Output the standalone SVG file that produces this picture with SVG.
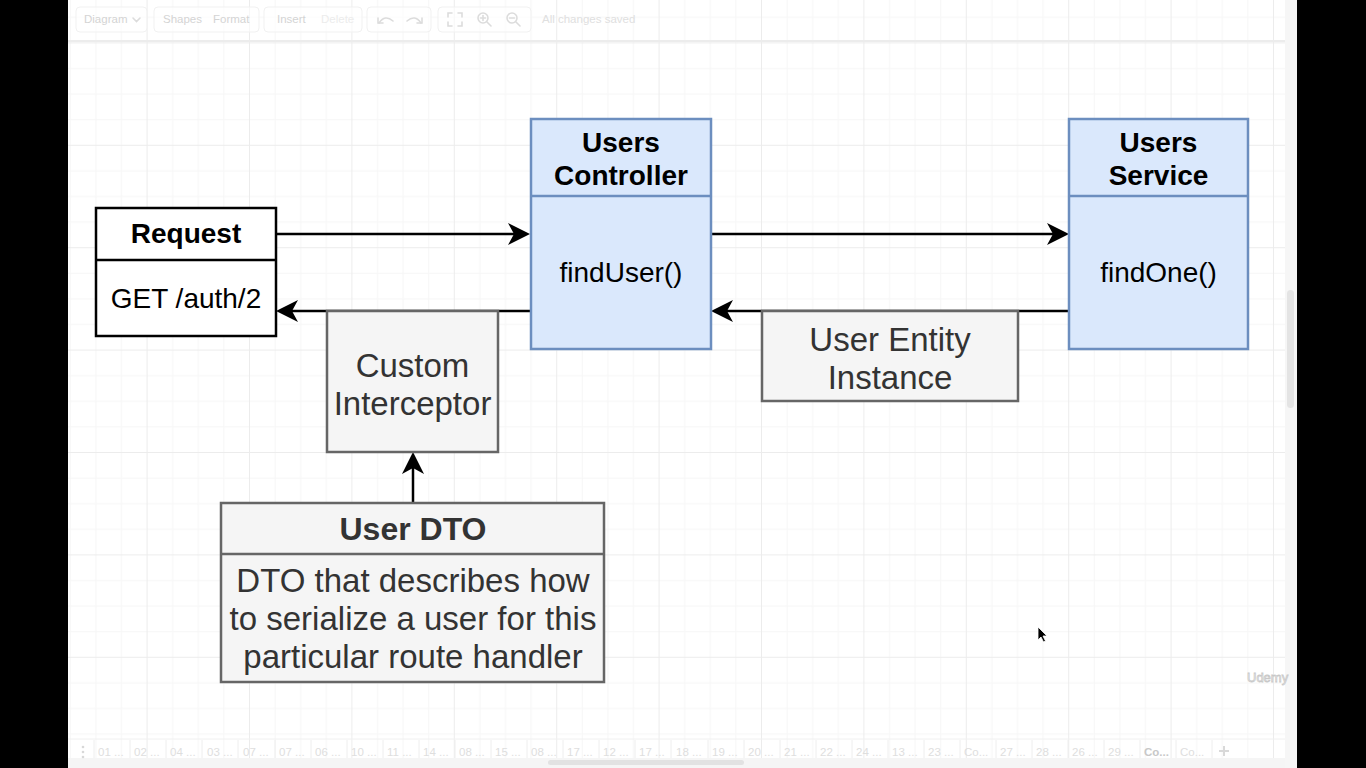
<svg xmlns="http://www.w3.org/2000/svg" width="1366" height="768" viewBox="0 0 1366 768">
<style>
  .t { font-family: "Liberation Sans", Arial, Helvetica, sans-serif; text-anchor: middle; }
  .b { font-weight: bold; }
  .s28 { font-size: 28px; }
  .s32 { font-size: 32px; }
  .s33 { font-size: 33px; }
  .ink { fill: #000000; }
  .dim { fill: #333333; }
  .blue { fill: #dae8fc; stroke: #6c8ebf; stroke-width: 2.5; }
  .gray { fill: #f5f5f5; stroke: #666666; stroke-width: 2.5; }
  .white { fill: #ffffff; stroke: #000000; stroke-width: 2.5; }
  .edge { fill: none; stroke: #000000; stroke-width: 2.5; marker-end: url(#arr); }
  .ui { font-family: "Liberation Sans", Arial, Helvetica, sans-serif; font-size: 11.5px; fill: #d4d4d4; }
  .tab { font-family: "Liberation Sans", Arial, Helvetica, sans-serif; font-size: 11.5px; fill: #dedede; }
  .tbox { fill: #ffffff; fill-opacity: 0.6; stroke: #f1f1f1; stroke-width: 1; }
  .icon { fill: none; stroke: #dcdcdc; stroke-width: 1.6; stroke-linecap: round; }
</style>
<defs>
  <pattern id="grid" patternUnits="userSpaceOnUse" x="44.2" y="42.4" width="102.4" height="102.4">
    <rect x="25.6" y="0" width="1" height="102.4" fill="#f6f6f6"/>
    <rect x="51.2" y="0" width="1" height="102.4" fill="#f6f6f6"/>
    <rect x="76.8" y="0" width="1" height="102.4" fill="#f6f6f6"/>
    <rect x="0" y="25.6" width="102.4" height="1" fill="#f6f6f6"/>
    <rect x="0" y="51.2" width="102.4" height="1" fill="#f6f6f6"/>
    <rect x="0" y="76.8" width="102.4" height="1" fill="#f6f6f6"/>
    <rect x="0" y="0" width="1" height="102.4" fill="#ececec"/>
    <rect x="0" y="0" width="102.4" height="1" fill="#ececec"/>
  </pattern>
  <marker id="arr" markerUnits="userSpaceOnUse" viewBox="0 0 22 22" refX="6" refY="11" markerWidth="22" markerHeight="22" orient="auto">
    <path d="M0,0 L22,11 L0,22 L6,11 Z" fill="#000000"/>
  </marker>
</defs>

<!-- frame -->
<rect x="0" y="0" width="1366" height="768" fill="#000000"/>
<rect x="68" y="0" width="1229" height="768" fill="#ffffff"/>
<rect x="68" y="0" width="1217" height="758" fill="url(#grid)"/>
<rect x="1285" y="0" width="12" height="768" fill="#f6f6f6"/>
<rect x="1287" y="290" width="7" height="118" rx="3.5" fill="#e4e4e4"/>

<!-- toolbar -->
<g id="toolbar">
  <line x1="68" y1="41" x2="1285" y2="41" stroke="#ececec" stroke-width="2"/>
  <rect class="tbox" x="76" y="7" width="71" height="25" rx="4"/>
  <rect class="tbox" x="154" y="7" width="105" height="25" rx="4"/>
  <rect class="tbox" x="264" y="7" width="98" height="25" rx="4"/>
  <rect class="tbox" x="367" y="7" width="64" height="25" rx="4"/>
  <rect class="tbox" x="438" y="7" width="93" height="25" rx="4"/>
  <text class="ui" x="84" y="23">Diagram</text>
  <polyline class="icon" points="133,18 136.5,21.5 140,18" stroke-width="1.2"/>
  <text class="ui" x="163" y="23">Shapes</text>
  <text class="ui" x="213" y="23">Format</text>
  <text class="ui" x="277" y="23">Insert</text>
  <text class="ui" x="321" y="23" style="fill:#ececec">Delete</text>
  <path class="icon" d="M379,23 Q385,14 393,21"/>
  <polyline class="icon" points="378,18 378,23 383,23"/>
  <path class="icon" d="M407,21 Q415,14 421,23" stroke="#ececec"/>
  <polyline class="icon" points="417,23 422,23 422,18" stroke="#ececec"/>
  <polyline class="icon" points="448,17 448,13 452,13"/>
  <polyline class="icon" points="458,13 462,13 462,17"/>
  <polyline class="icon" points="448,22 448,26 452,26"/>
  <polyline class="icon" points="458,26 462,26 462,22"/>
  <circle class="icon" cx="483" cy="18" r="5"/>
  <line class="icon" x1="487" y1="22" x2="491" y2="26"/>
  <line class="icon" x1="480.5" y1="18" x2="485.5" y2="18"/>
  <line class="icon" x1="483" y1="15.5" x2="483" y2="20.5"/>
  <circle class="icon" cx="512" cy="18" r="5"/>
  <line class="icon" x1="516" y1="22" x2="520" y2="26"/>
  <line class="icon" x1="509.5" y1="18" x2="514.5" y2="18"/>
  <text class="ui" x="542" y="23" style="fill:#e0e0e0">All changes saved</text>
</g>

<!-- bottom tab bar -->
<g id="tabbar">
  <line x1="68" y1="739" x2="1285" y2="739" stroke="#f0f0f0" stroke-width="1"/>
  <rect x="68" y="758" width="1217" height="10" fill="#f5f5f5"/>
  <rect x="548" y="760" width="196" height="5" rx="2.5" fill="#e2e2e2"/>
  <circle cx="83" cy="747" r="1.3" fill="#d8d8d8"/>
  <circle cx="83" cy="752" r="1.3" fill="#d8d8d8"/>
  <circle cx="83" cy="757" r="1.3" fill="#d8d8d8"/>
  <g stroke="#eeeeee" stroke-width="1">
    <line x1="94" y1="740" x2="94" y2="758"/>
    <line x1="130" y1="740" x2="130" y2="758"/>
    <line x1="166" y1="740" x2="166" y2="758"/>
    <line x1="202" y1="740" x2="202" y2="758"/>
    <line x1="238" y1="740" x2="238" y2="758"/>
    <line x1="275" y1="740" x2="275" y2="758"/>
    <line x1="311" y1="740" x2="311" y2="758"/>
    <line x1="347" y1="740" x2="347" y2="758"/>
    <line x1="383" y1="740" x2="383" y2="758"/>
    <line x1="419" y1="740" x2="419" y2="758"/>
    <line x1="455" y1="740" x2="455" y2="758"/>
    <line x1="491" y1="740" x2="491" y2="758"/>
    <line x1="527" y1="740" x2="527" y2="758"/>
    <line x1="563" y1="740" x2="563" y2="758"/>
    <line x1="599" y1="740" x2="599" y2="758"/>
    <line x1="635" y1="740" x2="635" y2="758"/>
    <line x1="671" y1="740" x2="671" y2="758"/>
    <line x1="708" y1="740" x2="708" y2="758"/>
    <line x1="744" y1="740" x2="744" y2="758"/>
    <line x1="780" y1="740" x2="780" y2="758"/>
    <line x1="816" y1="740" x2="816" y2="758"/>
    <line x1="852" y1="740" x2="852" y2="758"/>
    <line x1="888" y1="740" x2="888" y2="758"/>
    <line x1="924" y1="740" x2="924" y2="758"/>
    <line x1="960" y1="740" x2="960" y2="758"/>
    <line x1="996" y1="740" x2="996" y2="758"/>
    <line x1="1032" y1="740" x2="1032" y2="758"/>
    <line x1="1068" y1="740" x2="1068" y2="758"/>
    <line x1="1104" y1="740" x2="1104" y2="758"/>
    <line x1="1140" y1="740" x2="1140" y2="758"/>
    <line x1="1176" y1="740" x2="1176" y2="758"/>
    <line x1="1212" y1="740" x2="1212" y2="758"/>
  </g>
  <text class="tab" x="98" y="756">01 ...</text>
  <text class="tab" x="134" y="756">02 ...</text>
  <text class="tab" x="170" y="756">04 ...</text>
  <text class="tab" x="207" y="756">03 ...</text>
  <text class="tab" x="243" y="756">07 ...</text>
  <text class="tab" x="279" y="756">07 ...</text>
  <text class="tab" x="315" y="756">06 ...</text>
  <text class="tab" x="351" y="756">10 ...</text>
  <text class="tab" x="387" y="756">11 ...</text>
  <text class="tab" x="423" y="756">14 ...</text>
  <text class="tab" x="459" y="756">08 ...</text>
  <text class="tab" x="495" y="756">15 ...</text>
  <text class="tab" x="531" y="756">08 ...</text>
  <text class="tab" x="567" y="756">17 ...</text>
  <text class="tab" x="603" y="756">12 ...</text>
  <text class="tab" x="639" y="756">17 ...</text>
  <text class="tab" x="676" y="756">18 ...</text>
  <text class="tab" x="712" y="756">19 ...</text>
  <text class="tab" x="748" y="756">20 ...</text>
  <text class="tab" x="784" y="756">21 ...</text>
  <text class="tab" x="820" y="756">22 ...</text>
  <text class="tab" x="856" y="756">24 ...</text>
  <text class="tab" x="892" y="756">13 ...</text>
  <text class="tab" x="928" y="756">23 ...</text>
  <text class="tab" x="964" y="756">Co...</text>
  <text class="tab" x="1000" y="756">27 ...</text>
  <text class="tab" x="1036" y="756">28 ...</text>
  <text class="tab" x="1072" y="756">26 ...</text>
  <text class="tab" x="1108" y="756">29 ...</text>
  <text class="tab" x="1144" y="756" style="font-weight:bold;fill:#c8c8c8">Co...</text>
  <text class="tab" x="1180" y="756">Co...</text>
  <g stroke="#d9d9d9" stroke-width="2">
    <line x1="1219" y1="751" x2="1229" y2="751"/>
    <line x1="1224" y1="746" x2="1224" y2="756"/>
  </g>
</g>

<!-- connectors -->
<g id="connectors">
  <line class="edge" x1="277" y1="234" x2="514" y2="234"/>
  <line class="edge" x1="711" y1="234" x2="1053" y2="234"/>
  <line class="edge" x1="1069" y1="311" x2="727" y2="311"/>
  <line class="edge" x1="531" y1="311" x2="292" y2="311"/>
  <line class="edge" x1="413" y1="503" x2="413" y2="468"/>
</g>

<!-- nodes -->
<g id="request">
  <rect class="white" x="96" y="208" width="180" height="128"/>
  <line x1="96" y1="260" x2="276" y2="260" stroke="#000000" stroke-width="2.5"/>
  <text class="t b s28 ink" x="186" y="243">Request</text>
  <text class="t s28 ink" x="186" y="308">GET /auth/2</text>
</g>

<g id="users-controller">
  <rect class="blue" x="531" y="119" width="180" height="230"/>
  <line x1="531" y1="196" x2="711" y2="196" stroke="#6c8ebf" stroke-width="2.5"/>
  <text class="t b s28 ink" x="621" y="152">Users</text>
  <text class="t b s28 ink" x="621" y="185">Controller</text>
  <text class="t s28 ink" x="621" y="282">findUser()</text>
</g>

<g id="users-service">
  <rect class="blue" x="1069" y="119" width="179" height="230"/>
  <line x1="1069" y1="196" x2="1248" y2="196" stroke="#6c8ebf" stroke-width="2.5"/>
  <text class="t b s28 ink" x="1158.5" y="152">Users</text>
  <text class="t b s28 ink" x="1158.5" y="185">Service</text>
  <text class="t s28 ink" x="1158.5" y="282">findOne()</text>
</g>

<g id="custom-interceptor">
  <rect class="gray" x="327" y="311" width="171" height="141"/>
  <text class="t s33 dim" x="412.5" y="377">Custom</text>
  <text class="t s33 dim" x="412.5" y="415">Interceptor</text>
</g>

<g id="user-entity-instance">
  <rect class="gray" x="762" y="311" width="256" height="90"/>
  <text class="t s33 dim" x="890" y="351">User Entity</text>
  <text class="t s33 dim" x="890" y="389">Instance</text>
</g>

<g id="user-dto">
  <rect class="gray" x="221" y="503" width="383" height="179"/>
  <line x1="221" y1="554" x2="604" y2="554" stroke="#666666" stroke-width="2.5"/>
  <text class="t b s32 dim" x="413" y="540">User DTO</text>
  <text class="t s33 dim" x="413" y="592">DTO that describes how</text>
  <text class="t s33 dim" x="413" y="630">to serialize a user for this</text>
  <text class="t s33 dim" x="413" y="668">particular route handler</text>
</g>

<!-- watermark and pointer -->
<text x="1247" y="682" style="font-family:'Liberation Sans',Arial,sans-serif;font-size:13px;fill:#ffffff;stroke:#c8c8c8;stroke-width:0.8">Udemy</text>
<path d="M1038,627 L1038,640 L1041,637 L1043.5,642 L1045.5,641 L1043,636 L1047,636 Z" fill="#000000" stroke="#ffffff" stroke-width="0.8"/>
</svg>
